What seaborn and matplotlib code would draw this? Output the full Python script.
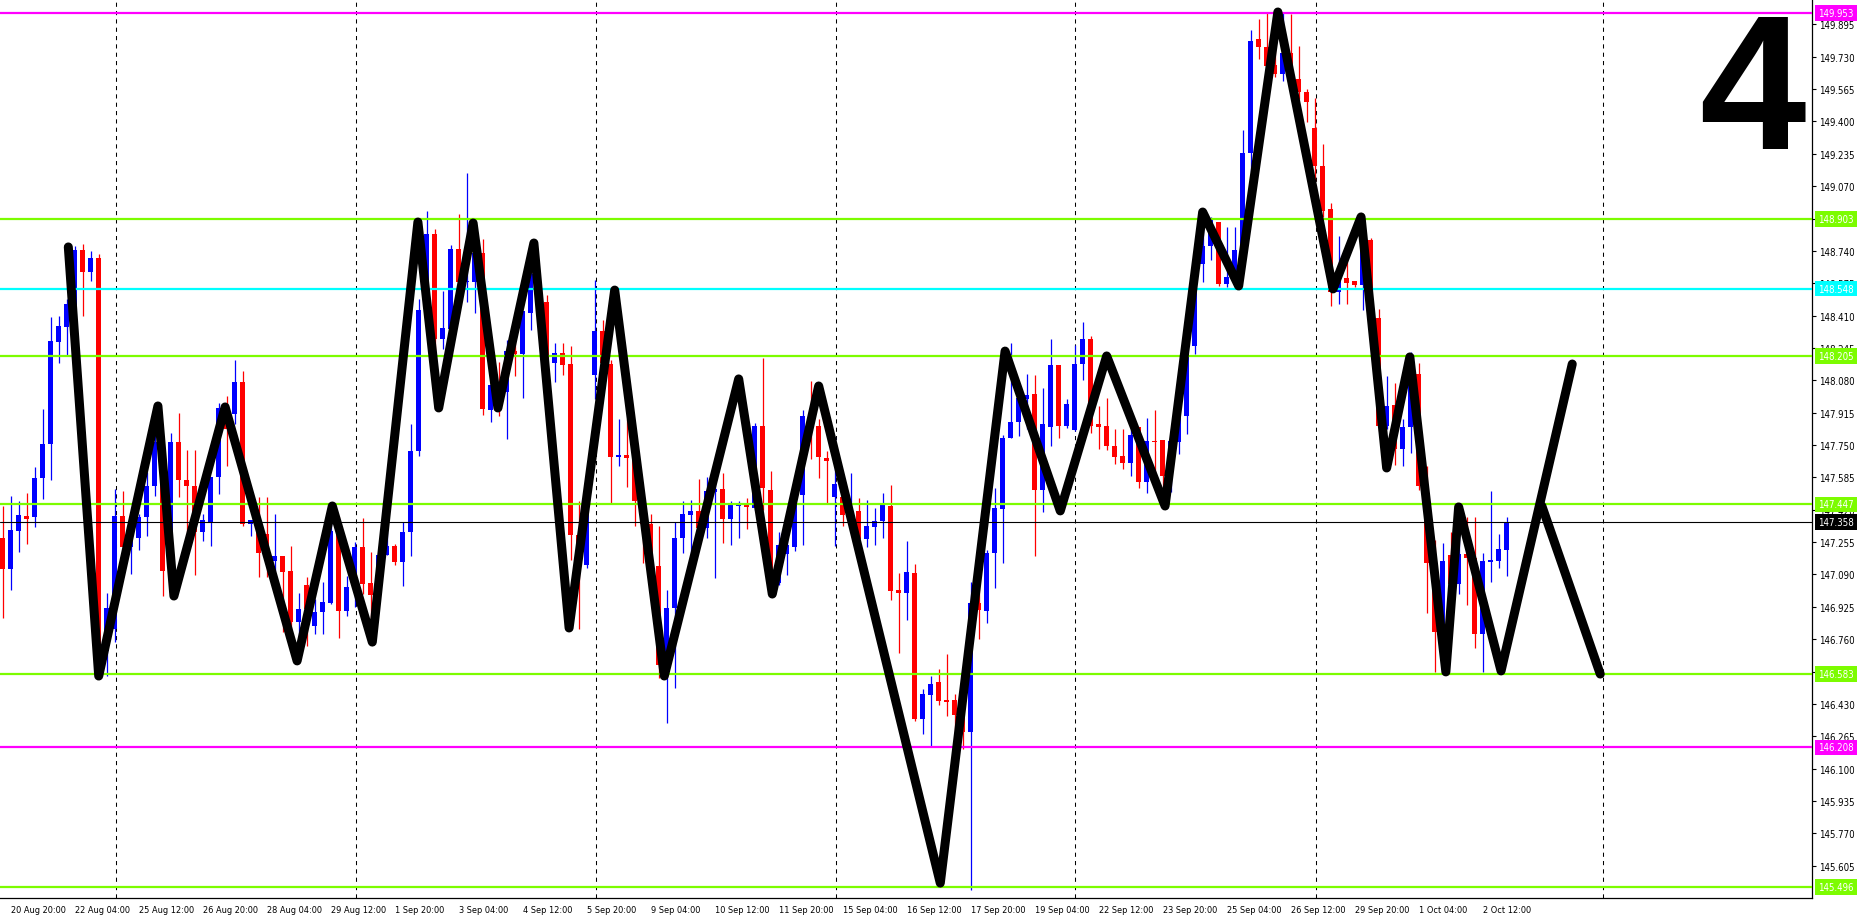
import numpy as np
import matplotlib
matplotlib.use("Agg")
import matplotlib.pyplot as plt
import matplotlib.transforms as mtransforms
from matplotlib import font_manager as fm
import seaborn as sns

sns.set_style("white")
has_cond = any(f.name == "DejaVu Sans" and f.stretch == "condensed" for f in fm.fontManager.ttflist)
names = {f.name for f in fm.fontManager.ttflist}
big_font = "Liberation Sans" if "Liberation Sans" in names else "DejaVu Sans"
plt.rcParams["font.family"] = ["DejaVu Sans"]
stretch = "condensed" if has_cond else "normal"
xlab_size = 6.6 if has_cond else 6.1
ylab_size = 6.9 if has_cond else 6.4

# H4 bars, index -1 .. 187
bar_idx = np.arange(-1, 188)
opens = [
    147.274, 147.118, 147.313, 147.386, 147.381, 147.580, 147.755, 148.274, 148.350, 148.464,
    148.746, 148.634, 148.704, 146.701, 146.812, 147.386, 147.228, 147.276, 147.381, 147.539,
    147.750, 147.118, 147.764, 147.573, 147.539, 147.308, 147.355, 147.585, 147.934, 147.908,
    148.073, 147.347, 147.369, 147.296, 147.160, 147.185, 147.109, 146.849, 147.036, 146.825,
    146.897, 146.944, 147.305, 146.906, 147.033, 147.228, 147.046, 146.985, 147.189, 147.237,
    147.155, 147.305, 147.721, 148.439, 148.826, 148.291, 148.342, 148.750, 148.580, 148.582,
    148.728, 147.930, 148.040, 148.018, 148.231, 148.213, 148.425, 148.622, 148.480, 148.170,
    148.217, 148.163, 147.290, 147.137, 148.108, 148.331, 148.163, 147.689, 147.697, 147.684,
    147.465, 147.347, 147.132, 146.600, 146.919, 147.274, 147.392, 147.416, 147.329, 147.511,
    147.524, 147.374, 147.438, 147.445, 147.429, 147.848, 147.520, 147.046, 147.192, 147.229,
    147.493, 147.857, 147.848, 147.682, 147.484, 147.484, 147.402, 147.411, 147.270, 147.332,
    147.365, 147.438, 147.010, 146.997, 147.099, 146.352, 146.475, 146.543, 146.450, 146.450,
    146.371, 146.285, 146.943, 146.904, 147.197, 147.425, 147.788, 147.866, 147.983, 148.011,
    147.523, 147.841, 148.159, 147.847, 147.827, 148.163, 148.290, 147.855, 147.847, 147.743,
    147.694, 147.659, 147.841, 147.562, 147.769, 147.776, 147.593, 147.763, 147.900, 148.257,
    148.673, 148.763, 148.889, 148.571, 148.605, 148.746, 149.239, 149.820, 149.778, 149.688,
    149.642, 149.749, 149.616, 149.548, 149.365, 149.171, 148.954, 148.529, 148.600, 148.588,
    148.566, 148.797, 148.396, 147.849, 147.954, 147.730, 147.840, 148.112, 147.546, 147.152,
    146.798, 147.189, 147.041, 147.194, 147.172, 146.786, 147.152, 147.160, 147.216,
]
highs = [
    147.441, 147.492, 147.466, 147.505, 147.640, 147.934, 148.405, 148.410, 148.495, 148.767,
    148.775, 148.741, 148.724, 146.995, 147.526, 147.514, 147.313, 147.398, 147.611, 147.849,
    147.755, 147.811, 147.913, 147.726, 147.726, 147.398, 147.585, 147.964, 148.000, 148.184,
    148.129, 147.369, 147.486, 147.486, 147.398, 147.185, 147.237, 146.995, 147.075, 146.965,
    147.049, 147.364, 147.381, 147.084, 147.254, 147.376, 147.203, 147.237, 147.305, 147.245,
    147.356, 147.858, 148.495, 148.945, 148.852, 148.537, 148.770, 148.928, 149.137, 148.850,
    148.801, 148.058, 148.172, 148.285, 148.285, 148.431, 148.668, 148.640, 148.516, 148.271,
    148.271, 148.254, 147.466, 147.398, 148.589, 148.385, 148.185, 147.881, 147.881, 147.820,
    147.470, 147.400, 147.338, 147.010, 147.356, 147.465, 147.471, 147.575, 147.587, 147.560,
    147.606, 147.465, 147.465, 147.478, 147.861, 148.194, 147.620, 147.307, 147.283, 147.493,
    147.926, 148.076, 147.884, 147.720, 147.793, 147.484, 147.606, 147.478, 147.471, 147.429,
    147.507, 147.544, 147.096, 147.261, 147.144, 146.508, 146.572, 146.606, 146.684, 146.481,
    146.397, 147.050, 147.050, 147.216, 147.529, 147.802, 148.270, 148.000, 148.114, 148.108,
    148.042, 148.290, 148.159, 147.987, 148.260, 148.378, 148.305, 147.948, 147.991, 147.831,
    147.831, 147.831, 147.841, 147.886, 147.929, 147.776, 147.831, 147.938, 148.340, 148.680,
    148.903, 148.911, 148.889, 148.860, 148.860, 149.356, 149.866, 149.922, 149.956, 149.953,
    149.956, 149.948, 149.786, 149.565, 149.518, 149.285, 148.984, 148.818, 148.695, 148.588,
    148.801, 148.805, 148.444, 148.104, 148.066, 147.883, 148.226, 148.168, 147.645, 147.267,
    147.250, 147.305, 147.441, 147.381, 147.381, 147.199, 147.517, 147.296, 147.381,
]
lows = [
    146.866, 147.012, 147.203, 147.245, 147.330, 147.475, 147.573, 148.167, 148.211, 148.440,
    148.410, 148.588, 146.574, 146.574, 146.744, 147.118, 147.092, 147.216, 147.284, 147.492,
    146.981, 147.050, 147.486, 147.308, 147.087, 147.262, 147.237, 147.500, 147.645, 147.857,
    147.338, 147.288, 147.075, 147.075, 147.109, 146.795, 146.795, 146.650, 146.727, 146.786,
    146.786, 146.939, 146.764, 146.880, 146.923, 146.990, 146.743, 146.982, 147.189, 147.138,
    147.029, 147.182, 147.696, 148.400, 147.934, 148.240, 148.330, 148.560, 148.481, 148.425,
    147.903, 147.866, 147.897, 147.781, 148.103, 147.990, 148.334, 148.470, 148.100, 148.072,
    148.109, 147.165, 146.810, 147.125, 147.985, 148.130, 147.456, 147.642, 147.538, 147.338,
    147.147, 147.074, 146.564, 146.330, 146.513, 147.198, 147.192, 147.265, 147.274, 147.074,
    147.252, 147.241, 147.274, 147.320, 147.420, 147.420, 146.983, 147.037, 147.088, 147.210,
    147.238, 147.678, 147.584, 147.456, 147.234, 147.338, 147.329, 147.238, 147.229, 147.238,
    147.278, 146.961, 146.688, 146.859, 146.344, 146.274, 146.215, 146.426, 146.367, 146.201,
    146.201, 145.479, 146.762, 146.840, 147.021, 147.148, 147.788, 147.796, 147.831, 147.183,
    147.406, 147.743, 147.788, 147.835, 147.821, 148.081, 147.812, 147.730, 147.724, 147.651,
    147.626, 147.593, 147.529, 147.503, 147.529, 147.441, 147.509, 147.704, 147.806, 148.214,
    148.583, 148.695, 148.563, 148.554, 148.571, 148.740, 149.141, 149.718, 149.660, 149.625,
    149.608, 149.600, 149.514, 149.399, 149.098, 148.911, 148.461, 148.469, 148.469, 148.554,
    148.440, 148.370, 147.820, 147.832, 147.648, 147.645, 147.709, 147.520, 146.893, 146.591,
    146.625, 146.990, 146.990, 146.934, 146.713, 146.591, 147.050, 147.121, 147.084,
]
closes = [
    147.118, 147.317, 147.393, 147.372, 147.580, 147.755, 148.279, 148.355, 148.469, 148.746,
    148.631, 148.704, 146.642, 146.917, 147.390, 147.228, 147.279, 147.381, 147.543, 147.764,
    147.109, 147.764, 147.573, 147.539, 147.308, 147.369, 147.585, 147.937, 147.830, 148.073,
    147.347, 147.369, 147.199, 147.194, 147.185, 147.100, 146.849, 146.914, 146.914, 146.897,
    146.948, 147.313, 146.906, 147.025, 147.228, 147.041, 146.985, 147.189, 147.237, 147.155,
    147.305, 147.721, 148.439, 148.826, 148.291, 148.347, 148.750, 148.580, 148.584, 148.731,
    147.934, 148.058, 147.950, 148.231, 148.213, 148.431, 148.622, 148.540, 148.170, 148.217,
    148.158, 147.293, 147.150, 147.398, 148.331, 148.167, 147.689, 147.697, 147.682, 147.465,
    147.347, 147.137, 146.627, 146.919, 147.274, 147.398, 147.416, 147.325, 147.514, 147.524,
    147.374, 147.442, 147.445, 147.433, 147.848, 147.529, 147.046, 147.238, 147.238, 147.474,
    147.897, 147.842, 147.689, 147.666, 147.551, 147.393, 147.411, 147.270, 147.338, 147.365,
    147.442, 147.005, 146.997, 147.103, 146.352, 146.481, 146.533, 146.445, 146.442, 146.371,
    146.285, 146.943, 146.910, 147.197, 147.431, 147.788, 147.866, 147.991, 148.003, 147.523,
    147.855, 148.159, 147.847, 147.958, 148.163, 148.290, 147.847, 147.843, 147.743, 147.690,
    147.659, 147.802, 147.562, 147.769, 147.763, 147.593, 147.769, 147.899, 148.257, 148.673,
    148.763, 148.903, 148.571, 148.605, 148.746, 149.239, 149.812, 149.778, 149.684, 149.642,
    149.749, 149.616, 149.552, 149.501, 149.171, 148.945, 148.529, 148.597, 148.576, 148.566,
    148.801, 148.400, 147.849, 147.951, 147.730, 147.844, 148.112, 147.543, 147.148, 146.798,
    147.160, 147.041, 147.194, 147.172, 146.786, 147.160, 147.164, 147.220, 147.356,
]

time_labels = [
    "20 Aug 20:00", "22 Aug 04:00", "25 Aug 12:00", "26 Aug 20:00", "28 Aug 04:00",
    "29 Aug 12:00", "1 Sep 20:00", "3 Sep 04:00", "4 Sep 12:00", "5 Sep 20:00",
    "9 Sep 04:00", "10 Sep 12:00", "11 Sep 20:00", "15 Sep 04:00", "16 Sep 12:00",
    "17 Sep 20:00", "19 Sep 04:00", "22 Sep 12:00", "23 Sep 20:00", "25 Sep 04:00",
    "26 Sep 12:00", "29 Sep 20:00", "1 Oct 04:00", "2 Oct 12:00",
]
label_bars = np.arange(0, 8 * len(time_labels), 8)
price_ticks = [round(145.605 + 0.165 * k, 3) for k in range(27)]
week_seps = [13.1, 43.2, 73.2, 103.2, 133.1, 163.2, 199.1]

levels_green = [148.903, 148.205, 147.447, 146.583, 145.496]
levels_magenta = [149.953, 146.208]
levels_cyan = [148.548]
last_price = 147.358

zz_x = [7.2, 11.0, 18.4, 20.4, 26.8, 35.8, 40.2, 45.2, 50.9, 53.5, 57.8, 60.9, 65.4, 69.8,
        75.5, 81.7, 91.0, 95.2, 101.0, 116.2, 124.3, 131.2, 137.0, 144.3, 149.0, 153.5,
        158.4, 165.3, 168.8, 172.0, 174.9, 179.4, 181.0, 186.3, 195.2]
zz_y = [148.760, 146.572, 147.949, 146.980, 147.944, 146.649, 147.439, 146.745, 148.887,
        147.939, 148.882, 147.939, 148.780, 146.817, 148.540, 146.572, 148.087, 146.990,
        148.051, 145.516, 148.229, 147.414, 148.204, 147.439, 148.938, 148.561, 149.958,
        148.546, 148.913, 147.633, 148.199, 146.593, 147.434, 146.598, 148.163]
proj_x = [191.4, 198.7]
proj_y = [147.439, 146.582]

W, H = 1861, 920
fig = plt.figure(figsize=(W / 100, H / 100), dpi=100)
ax = fig.add_axes([0, 21 / H, 1812 / W, 899 / H])
ax.set_facecolor("white")

# week separators
for xs in week_seps:
    ax.axvline(xs, color="black", lw=0.75, ls=(0, (4, 4)), zorder=1)

# candles
o = np.array(opens)
c = np.array(closes)
hi = np.array(highs)
lo = np.array(lows)
col = np.where(c >= o, "#0000FF", "#FF0000")
ax.vlines(bar_idx, lo, hi, colors=col, lw=0.9, zorder=2)
body_h = np.maximum(np.abs(c - o), 0.006)
ax.bar(bar_idx, body_h, bottom=np.minimum(o, c), width=0.66, color=col, lw=0, zorder=3)

# levels
for lv in levels_green:
    ax.axhline(lv, color="#7CFC00", lw=1.6, zorder=4)
for lv in levels_magenta:
    ax.axhline(lv, color="#FF00FF", lw=1.6, zorder=4)
for lv in levels_cyan:
    ax.axhline(lv, color="#00FFFF", lw=1.6, zorder=4)
ax.axhline(last_price, color="black", lw=0.8, zorder=4)

# zigzag
sns.lineplot(x=zz_x, y=zz_y, sort=False, estimator=None, color="black", lw=6.5,
             solid_capstyle="round", solid_joinstyle="round", zorder=6, ax=ax)
sns.lineplot(x=proj_x, y=proj_y, sort=False, estimator=None, color="black", lw=6.5,
             solid_capstyle="round", solid_joinstyle="round", zorder=6, ax=ax)

ax.set_xlim(-1.34, 225.17)
ax.set_ylim(145.440, 150.0244)

for s in ["top", "left"]:
    ax.spines[s].set_visible(False)
for s in ["right", "bottom"]:
    ax.spines[s].set_color("black")
    ax.spines[s].set_linewidth(0.9)

ax.yaxis.tick_right()
ax.set_yticks(price_ticks)
ax.set_yticklabels([f"{p:.3f}" for p in price_ticks], fontstretch=stretch)
ax.tick_params(axis="y", direction="out", length=3, width=0.8, pad=2,
               labelsize=ylab_size, colors="black")
ax.set_xticks(label_bars)
ax.set_xticklabels(time_labels, fontstretch=stretch)
ax.tick_params(axis="x", direction="out", length=3.5, width=0.8, pad=1.5,
               labelsize=xlab_size, colors="black")
for t in ax.get_xticklabels():
    t.set_ha("left")
ax.set_xlabel("")
ax.set_ylabel("")
ax.grid(False)

# price tags on the right scale
trans = mtransforms.blended_transform_factory(ax.transAxes, ax.transData)
tags = ([(lv, "#7CFC00") for lv in levels_green] + [(lv, "#FF00FF") for lv in levels_magenta]
        + [(lv, "#00FFFF") for lv in levels_cyan] + [(last_price, "black")])
for lv, cc in tags:
    ax.text(1.0035, lv, f"{lv:.3f}", transform=trans, ha="left", va="center",
            fontsize=ylab_size, fontstretch=stretch, color="white", clip_on=False, zorder=10,
            bbox=dict(boxstyle="square,pad=0.3", fc=cc, ec="none"))

fig.text(1806 / W, 1 - 10 / H, "4", ha="right", va="top", fontsize=138,
         fontweight="bold", family=big_font, color="black")

fig.savefig("out.png", dpi=100)
